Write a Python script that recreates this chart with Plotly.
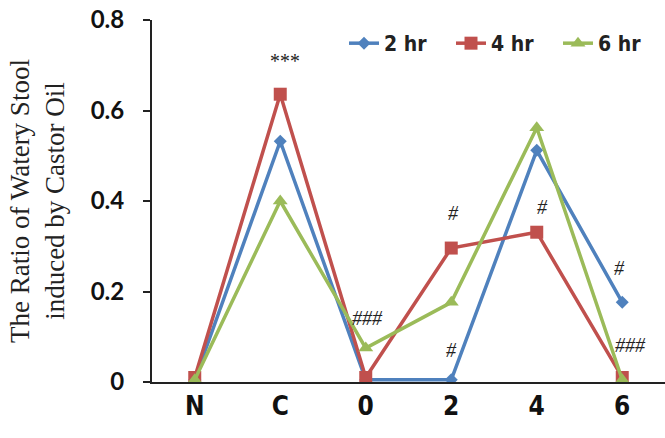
import plotly.graph_objects as go

categories = ["N", "C", "0", "2", "4", "6"]
series_names = ["2 hr", "4 hr", "6 hr"]
vals_2hr = [0.005, 0.532, 0.005, 0.005, 0.512, 0.176]
vals_4hr = [0.01, 0.636, 0.01, 0.296, 0.331, 0.01]
vals_6hr = [0.005, 0.40, 0.075, 0.176, 0.562, 0.005]
y_ticks = [0, 0.2, 0.4, 0.6, 0.8]
y_tick_labels = ["0", "0.2", "0.4", "0.6", "0.8"]

# significance marks: (text, x position in category units, y value)
marks = [
    ("***", 1.04, 0.71),
    ("###", 2.02, 0.141),
    ("#", 3.03, 0.373),
    ("#", 3.0, 0.07),
    ("#", 4.07, 0.386),
    ("#", 4.97, 0.252),
    ("###", 5.1, 0.082),
]

colors = ["#4F81BD", "#C0504D", "#9BBB59"]
symbols = ["diamond", "square", "triangle-up"]
sizes = [10, 13, 13]
xi = list(range(len(categories)))

narrow = "DejaVu Sans Condensed, Liberation Sans Narrow, sans-serif"

fig = go.Figure()
for name, vals, c, s, sz in zip(series_names, [vals_2hr, vals_4hr, vals_6hr], colors, symbols, sizes):
    fig.add_trace(go.Scatter(
        x=xi, y=vals, name=name, mode="lines+markers",
        line=dict(color=c, width=3.5),
        marker=dict(color=c, symbol=s, size=sz),
    ))

for t, x, y in marks:
    fig.add_annotation(x=x, y=y, text="<i>" + t + "</i>", showarrow=False, xref="x", yref="y",
                       font=dict(family="Liberation Serif", size=20, color="#222"))

fig.update_layout(
    width=665, height=438,
    margin=dict(l=152, r=0, t=20, b=56),
    plot_bgcolor="white", paper_bgcolor="white",
    showlegend=True,
    legend=dict(orientation="h", x=1.0, y=0.935, xanchor="right", yanchor="middle",
                font=dict(family=narrow, size=21, color="#222", weight="bold"),
                bgcolor="rgba(0,0,0,0)", entrywidth=62, entrywidthmode="pixels",
                itemwidth=30, tracegroupgap=0),
    xaxis=dict(range=[-0.5, 5.5], tickmode="array", tickvals=xi, ticktext=categories,
               showline=True, linecolor="#222", linewidth=2, ticks="", showgrid=False,
               zeroline=False,
               tickfont=dict(family=narrow, size=26, color="#111", weight="bold")),
    yaxis=dict(range=[0, 0.8], tickmode="array", tickvals=y_ticks, ticktext=y_tick_labels,
               showline=True, linecolor="#222", linewidth=2, ticks="outside", ticklen=7,
               tickcolor="#222", tickwidth=2, showgrid=False, zeroline=False,
               ticklabelstandoff=14,
               tickfont=dict(family="Lato", size=24, color="#111", weight="bold"),
               title=dict(text="The Ratio of Watery Stool<br>induced by Castor Oil",
                          font=dict(family="Liberation Serif", size=27, color="#222"),
                          standoff=18)),
)

fig.write_html("out.html")
